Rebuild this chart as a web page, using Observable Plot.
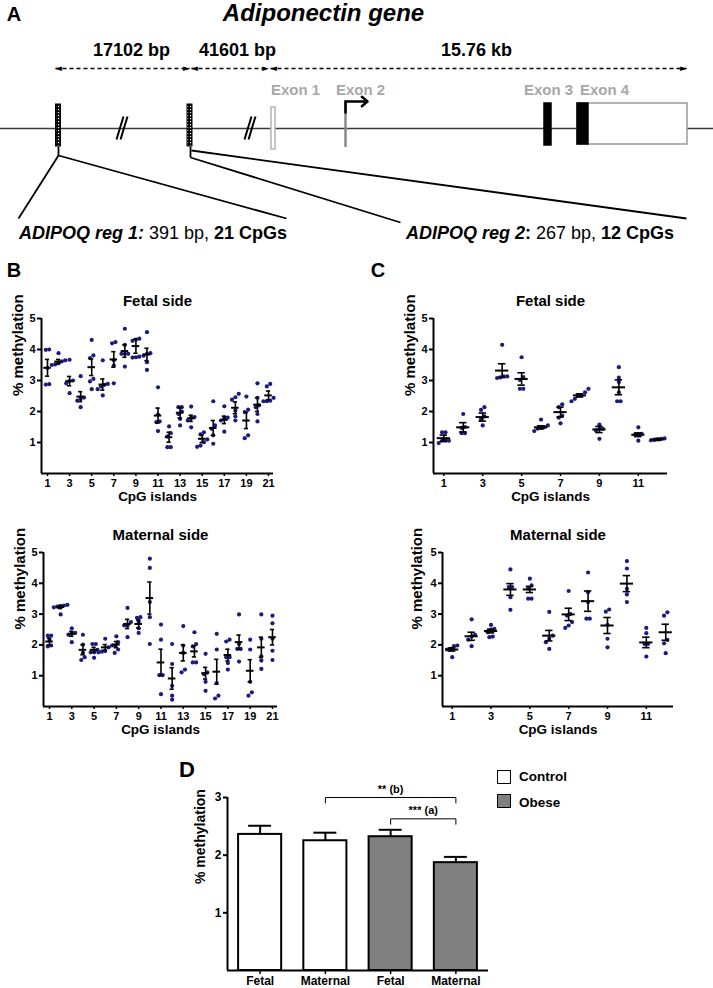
<!DOCTYPE html>
<html><head><meta charset="utf-8">
<script src="https://cdn.jsdelivr.net/npm/d3@7"></script>
<script src="https://cdn.jsdelivr.net/npm/@observablehq/plot@0.6"></script>
<style>
body{margin:0;background:#fff}
#root{position:relative;width:713px;height:988px;overflow:hidden;font-family:"Liberation Sans",Arial,Helvetica,sans-serif;color:#000;background:#fff}
.abs{position:absolute;white-space:nowrap}
.letter{font-size:20px;font-weight:bold;line-height:1;transform:translate(-50%,-50%)}
</style></head><body><div id="root"></div>
<script>
// ---------------- DATA ----------------
// Panel B (ADIPOQ reg 1, 21 CpGs)
const bTicks = [1,3,5,7,9,11,13,15,17,19,21];
const bFetalMean = [3.41,3.61,2.98,2.48,3.43,2.87,3.68,3.95,4.11,3.84,1.87,1.17,1.96,1.78,1.12,1.47,1.73,2.12,1.71,2.22,2.52];
const bFetalSem  = [0.27,0.07,0.15,0.16,0.27,0.18,0.25,0.20,0.23,0.20,0.24,0.16,0.17,0.10,0.12,0.24,0.12,0.19,0.26,0.22,0.14];
const bFetalPts = [
  [4.0,3.99,3.4,2.88,2.87],[3.88,3.65,3.62,3.56,3.5,3.52],[3.67,3.0,2.98,2.91,2.59],[3.14,2.45,2.41,2.35,2.14],
  [4.31,3.81,3.72,3.05,2.97,2.72],[3.65,2.89,2.86,2.81,2.72,2.52],[4.24,4.2,3.65,3.48,2.91],[4.67,4.15,3.86,3.86,3.86,3.45],
  [4.35,4.32,4.28,3.77,3.75,3.74],[4.56,3.88,3.86,3.8,3.59,3.34],[2.78,1.9,1.68,1.66,1.37],[1.52,1.3,1.2,0.85,0.85],
  [2.14,2.14,2.0,1.92,1.76,1.55],[2.16,1.82,1.8,1.71,1.49],[1.33,1.26,1.1,1.01,0.9,0.86],[2.33,1.55,1.44,1.23,0.96],
  [2.17,1.8,1.78,1.71,1.35],[2.57,2.46,2.38,2.03,1.84,1.71],[2.48,2.06,1.98,1.23,1.14],[2.91,2.44,2.2,2.14,1.92,1.68],
  [2.89,2.81,2.44,2.35,2.33,2.33]
];
const bMaternalMean = [2.11,3.23,2.36,1.84,1.84,1.92,2.01,2.68,2.68,3.52,1.43,0.91,1.74,1.79,1.08,1.13,1.67,2.09,1.16,1.92,2.25];
const bMaternalSem  = [0.11,0.05,0.08,0.16,0.08,0.09,0.10,0.15,0.13,0.52,0.43,0.35,0.26,0.18,0.19,0.40,0.19,0.23,0.36,0.33,0.25];
const bMaternalPts = [
  [2.3,2.3,2.16,1.98,1.95],[3.3,3.28,3.26,3.24,3.22,2.99],[2.54,2.39,2.38,2.33,2.09],[2.33,2.01,1.74,1.6,1.51],
  [2.03,2.03,1.84,1.76,1.76,1.58],[2.2,1.98,1.92,1.8,1.78,1.76],[2.28,2.09,1.98,1.85,1.74],[3.2,2.74,2.63,2.63,2.25],
  [2.9,2.88,2.76,2.54,2.39],[4.8,4.5,3.39,2.9,2.03],[2.66,2.17,1.02,1.02,0.4],[2.03,1.38,0.67,0.35,0.22],
  [2.61,1.98,1.74,1.2,1.11],[2.41,2.03,1.95,1.43,1.43],[1.71,1.11,1.05,0.8,0.51],[2.36,1.85,0.76,0.35,0.26],
  [2.17,2.11,1.6,1.6,1.41,1.2],[2.99,2.03,1.87,1.87,1.46],[2.17,1.85,0.8,0.46,0.35],[2.99,2.2,1.63,1.49,1.22],
  [2.95,2.7,2.2,1.81,1.51]
];
// Panel C (ADIPOQ reg 2, 12 CpGs)
const cTicks = [1,3,5,7,9,11];
const cFetalMean = [1.14,1.49,1.82,3.32,3.05,1.49,1.98,2.52,1.42,2.78,1.25,1.10];
const cFetalSem  = [0.10,0.15,0.13,0.22,0.20,0.05,0.16,0.05,0.10,0.24,0.06,0.03];
const cFetalPts = [
  [1.33,1.33,1.06,1.06,1.06,0.98],[1.92,1.5,1.47,1.3,1.3],[2.14,2.05,1.84,1.74,1.55],[4.15,3.13,3.13,3.1,3.08],
  [3.75,3.11,3.02,2.73,2.73],[1.74,1.55,1.5,1.47,1.45,1.37],[2.23,2.14,1.87,1.8,1.62],[2.73,2.62,2.52,2.5,2.41,2.33],
  [1.58,1.44,1.44,1.39,1.12],[3.43,3.09,2.95,2.62,2.33,2.33],[1.49,1.28,1.25,1.25,1.06],[1.13,1.12,1.1,1.08,1.07]
];
const cMaternalMean = [1.85,2.28,2.45,3.80,3.80,2.30,2.99,3.42,2.63,3.99,2.08,2.41];
const cMaternalSem  = [0.05,0.13,0.06,0.19,0.10,0.17,0.20,0.33,0.26,0.26,0.17,0.26];
const cMaternalPts = [
  [1.98,1.96,1.87,1.85,1.6],[2.83,2.33,2.28,2.17,1.96],[2.65,2.52,2.5,2.41,2.27,2.25],[4.45,3.88,3.88,3.55,3.14],
  [4.15,3.93,3.83,3.5,3.5],[3.07,2.3,2.2,2.09,1.87],[3.75,3.0,2.95,2.74,2.63,2.55],[4.35,3.71,3.39,2.85,2.85],
  [3.15,3.08,2.65,2.2,1.92],[4.72,4.48,3.82,3.64,3.39],[2.55,2.38,2.03,2.03,1.62],[3.06,2.95,2.16,2.05,1.73]
];
// Panel D
const dGroups = ["Control","Control","Obese","Obese"];
const dSides  = ["Fetal","Maternal","Fetal","Maternal"];
const dMeans  = [2.36,2.25,2.32,1.87];
const dSems   = [0.15,0.14,0.12,0.10];
const legendGroups = ["Control","Obese"];
const groupColors = {Control:"#ffffff", Obese:"#808080"};
const brackets = [{from:1,to:3,level:3.0,label:"** (b)"},{from:2,to:3,level:2.63,label:"*** (a)"}];

// Panel A schematic (schematic units)
const spanLabels = ["17102 bp","41601 bp","15.76 kb"];
const spanStart  = [55,191,270];
const spanEnd    = [189,268,686];
const spanLabelX = [131,237,476];
const exonNames  = ["Exon 1","Exon 2","Exon 3","Exon 4"];
const exonLabelX = [295,360,548,604];
const regionNames = ["ADIPOQ reg 1","ADIPOQ reg 2"];

// ---------------- HELPERS ----------------
const root = document.getElementById("root");
const FONT = "Liberation Sans, Arial, Helvetica, sans-serif";
const intFmt = d3.format("d");
function place(node, left, top, w, h){
  const d = document.createElement("div");
  d.className = "abs";
  d.style.left = left+"px"; d.style.top = top+"px";
  if (w) d.style.width = w+"px";
  if (h) d.style.height = h+"px";
  d.appendChild(node); root.appendChild(d); return d;
}
function html(str, left, top, cls, style){
  const d = document.createElement("div");
  d.className = "abs " + (cls||"");
  d.style.left = left+"px"; d.style.top = top+"px";
  if (style) d.style.cssText += style;
  d.innerHTML = str; root.appendChild(d); return d;
}

function scatter(o){
  const frameW = o.width - o.mL - o.mR;
  const ppu = frameW / (o.xDomain[1]-o.xDomain[0]);
  const step = 3.4 / ppu;
  const dots = [];
  o.points.forEach((vals, i) => {
    const cat = i + 1;
    const sorted = vals.slice().sort((a,b)=>a-b);
    const clusters = []; let cur = [];
    sorted.forEach(v => { if (cur.length && v - cur[cur.length-1] > 0.12) { clusters.push(cur); cur = []; } cur.push(v); });
    if (cur.length) clusters.push(cur);
    clusters.forEach(cl => cl.forEach((v,j) => dots.push({x: cat + (j - (cl.length-1)/2)*step, y: v})));
  });
  const summ = o.means.map((m,i)=>({cat:i+1, mean:m, lo:m-o.sems[i], hi:m+o.sems[i]}));
  const p = Plot.plot({
    width:o.width, height:o.height, marginLeft:o.mL, marginRight:o.mR, marginTop:o.mT, marginBottom:o.mB,
    x:{domain:o.xDomain}, y:{domain:[0,5]},
    style:{fontFamily:FONT, fontWeight:"bold", fontSize:"11px", background:"transparent", overflow:"visible", color:"#000"},
    marks:[
      Plot.axisY({ticks:[1,2,3,4,5], tickFormat:intFmt, tickSize:4, tickPadding:2, strokeWidth:2, fontSize:11, label:null}),
      Plot.axisX({ticks:o.ticks, tickFormat:intFmt, tickSize:3, tickPadding:3, strokeWidth:1.5, fontSize:11, label:null}),
      Plot.ruleX([o.xDomain[0]], {strokeWidth:2}),
      Plot.ruleY([0], {strokeWidth:2}),
      Plot.dot(dots, {x:"x", y:"y", r:2.1, fill:"#1c1c7e", stroke:null}),
      Plot.ruleY(summ, {y:"mean", x1:d=>d.cat-0.34, x2:d=>d.cat+0.34, strokeWidth:2}),
      Plot.ruleX(summ, {x:"cat", y1:"lo", y2:"hi", strokeWidth:1.6}),
      Plot.ruleY(summ, {y:"hi", x1:d=>d.cat-0.19, x2:d=>d.cat+0.19, strokeWidth:1.6}),
      Plot.ruleY(summ, {y:"lo", x1:d=>d.cat-0.19, x2:d=>d.cat+0.19, strokeWidth:1.6}),
      Plot.text([o.title], {frameAnchor:"top", dy:-23, fontSize:15}),
      Plot.text(["CpG islands"], {frameAnchor:"bottom", dy:27, fontSize:13.5}),
      Plot.text(["% methylation"], {frameAnchor:"left", dx:o.ylabDx, rotate:-90, fontSize:15})
    ]
  });
  place(p, o.left, o.top, o.width, o.height);
}

// ---------------- PANEL A ----------------
(function(){
  const spans = spanLabels.map((l,i)=>({label:l, x1:spanStart[i], x2:spanEnd[i], lx:spanLabelX[i], y:68}));
  const heads = spans.flatMap(s => [{x:s.x1+3, y:s.y, t:"◄"}, {x:s.x2-3, y:s.y, t:"►"}]);
  const regions = [{x1:55.5,x2:60.5,y1:104,y2:146},{x1:187,x2:192,y1:104,y2:146}];
  const connectors = [
    {x1:58,y1:146,x2:58,y2:155},{x1:58,y1:155,x2:18,y2:218},{x1:58,y1:155,x2:286,y2:218},
    {x1:190,y1:146,x2:190,y2:157},{x1:190,y1:157,x2:400,y2:222},{x1:191,y1:150,x2:686,y2:218}
  ];
  const slashes = [
    {x1:116,y1:139,x2:123,y2:116},{x1:120,y1:139,x2:127,y2:116},
    {x1:244,y1:139,x2:251,y2:116},{x1:248,y1:139,x2:255,y2:116}
  ];
  const exonBoxes = [
    {x1:271,x2:275,y1:107,y2:149,fill:"#ffffff",stroke:"#b4b4b4"},
    {x1:344.3,x2:346.7,y1:103,y2:147,fill:"#858585",stroke:"none"},
    {x1:544,x2:551,y1:103,y2:145,fill:"#000000",stroke:"#000000"},
    {x1:577,x2:687,y1:103,y2:144,fill:"#ffffff",stroke:"#9a9a9a"},
    {x1:577,x2:588,y1:103,y2:144,fill:"#000000",stroke:"#000000"}
  ];
  const tssStem = [{x:345,y:112},{x:345,y:101}];
  const tssHead = [{x1:345,y1:101,x2:367,y2:101}];
  const p = Plot.plot({
    width:713, height:250, margin:0,
    x:{domain:[0,713], range:[0,713], axis:null}, y:{domain:[0,250], range:[0,250], axis:null},
    color:{type:"identity"},
    style:{fontFamily:FONT, background:"transparent", overflow:"visible"},
    marks:[
      Plot.ruleY([128], {x1:0, x2:713, stroke:"#3a3a3a", strokeWidth:1.3}),
      Plot.link(slashes, {x1:"x1",y1:"y1",x2:"x2",y2:"y2", stroke:"black", strokeWidth:2}),
      Plot.rect(exonBoxes, {x1:"x1",x2:"x2",y1:"y1",y2:"y2", fill:"fill", stroke:"stroke", strokeWidth:1.5}),
      Plot.link(connectors, {x1:"x1",y1:"y1",x2:"x2",y2:"y2", stroke:"black", strokeWidth:1.8}),
      Plot.rect(regions, {x1:"x1",x2:"x2",y1:"y1",y2:"y2", fill:"url(#hatch)", stroke:"black", strokeWidth:1}),
      Plot.text(exonNames, {x:(d,i)=>exonLabelX[i], y:90, text:d=>d, fill:"#a8a8a8", fontSize:15, fontWeight:"bold"}),
      Plot.line(tssStem, {x:"x", y:"y", stroke:"black", strokeWidth:2.5}),
      Plot.arrow(tssHead, {x1:"x1", y1:"y1", x2:"x2", y2:"y2", stroke:"black", strokeWidth:2.5, headLength:7, headAngle:80}),
      Plot.link(spans, {x1:"x1",y1:"y",x2:"x2",y2:"y", stroke:"black", strokeWidth:1.5, strokeDasharray:"4,3"}),
      Plot.text(heads, {x:"x", y:"y", text:"t", fontSize:9, fontFamily:"DejaVu Sans"}),
      Plot.text(spans, {x:"lx", y:50, text:"label", fontSize:18, fontWeight:"bold"}),
      Plot.text(["Adiponectin gene"], {x:323, y:13, fontSize:24, fontWeight:"bold", fontStyle:"italic"})
    ]
  });
  const defs = d3.select(p).insert("defs", ":first-child");
  const pat = defs.append("pattern").attr("id","hatch").attr("patternUnits","userSpaceOnUse").attr("width",3).attr("height",3);
  pat.append("rect").attr("width",3).attr("height",3).attr("fill","#000");
  pat.append("rect").attr("x",1).attr("y",1).attr("width",1.2).attr("height",1.2).attr("fill","#fff");
  place(p, 0, 0, 713, 250);
  html(`<b><i>${regionNames[0]}:</i></b> 391 bp, <b>21 CpGs</b>`, 19, 222, "", "font-size:18px;line-height:22px");
  html(`<b><i>${regionNames[1]}</i>:</b> 267 bp, <b>12 CpGs</b>`, 406, 222, "", "font-size:18px;line-height:22px");
})();

// ---------------- PANELS B & C ----------------
scatter({points:bFetalPts, means:bFetalMean, sems:bFetalSem, ticks:bTicks, title:"Fetal side",
  xDomain:[0.457,21.45], left:0, top:280, width:290, height:230, mL:41, mR:17, mT:38, mB:37, ylabDx:-23});
scatter({points:bMaternalPts, means:bMaternalMean, sems:bMaternalSem, ticks:bTicks, title:"Maternal side",
  xDomain:[0.462,21.45], left:0, top:515, width:290, height:230, mL:43, mR:13, mT:37, mB:39, ylabDx:-23});
scatter({points:cFetalPts, means:cFetalMean, sems:cFetalSem, ticks:cTicks, title:"Fetal side",
  xDomain:[0.47,12.5], left:360, top:280, width:330, height:230, mL:73, mR:23, mT:38, mB:37, ylabDx:-23});
scatter({points:cMaternalPts, means:cMaternalMean, sems:cMaternalSem, ticks:cTicks, title:"Maternal side",
  xDomain:[0.5,12.4], left:360, top:515, width:330, height:230, mL:82, mR:17, mT:37, mB:39, ylabDx:-25});

// ---------------- PANEL D ----------------
(function(){
  const rows = dMeans.map((m,i)=>({i, group:dGroups[i], side:dSides[i], mean:m, hi:m+dSems[i]}));
  const br = brackets.flatMap(b => [
    {x1:b.from, x2:b.to, y1:b.level, y2:b.level},
    {x1:b.from, x2:b.from, y1:b.level, y2:b.level-0.1},
    {x1:b.to, x2:b.to, y1:b.level, y2:b.level-0.1}
  ]);
  const p = Plot.plot({
    width:345, height:228, marginLeft:77, marginRight:7, marginTop:37, marginBottom:18,
    x:{domain:[-0.5,3.5]}, y:{domain:[0,3]}, color:{type:"identity"},
    style:{fontFamily:FONT, fontWeight:"bold", fontSize:"12px", background:"transparent", overflow:"visible", color:"#000"},
    marks:[
      Plot.axisY({ticks:[1,2,3], tickFormat:intFmt, tickSize:4, tickPadding:2, strokeWidth:2, fontSize:12, label:null}),
      Plot.axisX({ticks:[0,1,2,3], tickFormat:i=>dSides[i], tickSize:4, tickPadding:2, strokeWidth:1.5, fontSize:12, label:null}),
      Plot.ruleX(rows, {x:"i", y1:"mean", y2:"hi", strokeWidth:2}),
      Plot.ruleY(rows, {y:"hi", x1:d=>d.i-0.176, x2:d=>d.i+0.176, strokeWidth:2}),
      Plot.rectY(rows, {x1:d=>d.i-0.33, x2:d=>d.i+0.33, y1:0, y2:"mean", fill:d=>groupColors[d.group], stroke:"black", strokeWidth:2}),
      Plot.ruleX([-0.5], {strokeWidth:2}),
      Plot.ruleY([0], {strokeWidth:2}),
      Plot.link(br, {x1:"x1", x2:"x2", y1:"y1", y2:"y2", stroke:"black", strokeWidth:1}),
      Plot.text(brackets, {x:b=>(b.from+b.to)/2, y:"level", text:"label", dy:-8, fontSize:11}),
      Plot.text(["% methylation"], {frameAnchor:"left", dx:-27, rotate:-90, fontSize:14})
    ]
  });
  place(p, 150, 760, 345, 228);
  legendGroups.forEach((g,k) => {
    html("", 497, 770 + k*24.3, "", `width:14px;height:14px;box-sizing:border-box;border:1.5px solid #000;background:${groupColors[g]}`);
    html(g, 519, 769 + k*26, "", "font-size:13.5px;font-weight:bold;line-height:16px");
  });
})();

// ---------------- PANEL LETTERS ----------------
html("A", 14, 14, "letter");
html("B", 14, 270, "letter");
html("C", 378, 270, "letter");
html("D", 187, 770, "letter", "font-size:22px");
</script></body></html>
